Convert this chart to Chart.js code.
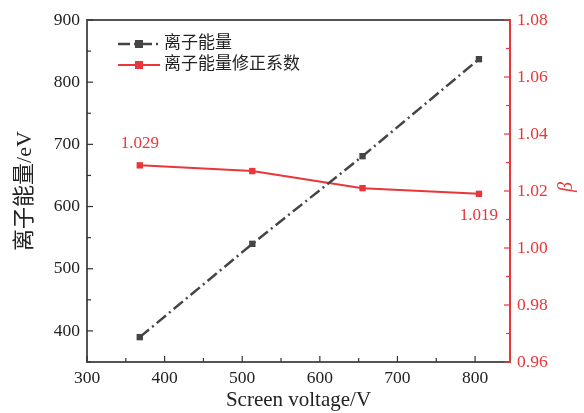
<!DOCTYPE html>
<html>
<head>
<meta charset="utf-8">
<script src="https://cdn.jsdelivr.net/npm/chart.js@4.4.1/dist/chart.umd.min.js"></script>
<style>
  html, body { margin: 0; padding: 0; background: #fff; }
  #wrap { width: 584px; height: 413px; position: relative; }
</style>
</head>
<body>
<div id="wrap"><canvas id="c"></canvas></div>
<script>
// 数据：屏栅电压 / 离子能量 / 修正系数
const voltages      = [368, 513, 655, 805];
const ionEnergy     = [390, 540, 681, 837];
const betaFactor    = [1.029, 1.027, 1.021, 1.019];
const seriesNames   = ['离子能量', '离子能量修正系数'];
const xTicks        = [300, 400, 500, 600, 700, 800];
const yLeftTicks    = [400, 500, 600, 700, 800, 900];
const yRightTicks   = [0.96, 0.98, 1.00, 1.02, 1.04, 1.06, 1.08];
const pointLabels   = [{ idx: 0, text: '1.029', dy: -22 }, { idx: 3, text: '1.019', dy: 22 }];

const GREY = '#454545';
const RED  = '#e8363a';
const AXIS = '#555555';
const SERIF = '"Liberation Serif", "Times New Roman", serif';
const CJK   = '"Liberation Serif", "Noto Sans CJK SC", serif';

// 内向刻度 + 顶边框 + 图例 + 数值标注
const decor = {
  id: 'decor',
  afterDraw(chart) {
    const { ctx, chartArea: a, scales } = chart;
    ctx.save();
    // top frame
    ctx.strokeStyle = AXIS; ctx.lineWidth = 2;
    ctx.beginPath(); ctx.moveTo(a.left, a.top); ctx.lineTo(a.right, a.top); ctx.stroke();

    const tick = (sc, v, len, color) => {
      const p = sc.getPixelForValue(v);
      ctx.strokeStyle = color; ctx.lineWidth = 1.2;
      ctx.beginPath();
      if (sc.axis === 'x') { ctx.moveTo(p, a.bottom); ctx.lineTo(p, a.bottom - len); }
      else if (sc.position === 'left') { ctx.moveTo(a.left, p); ctx.lineTo(a.left + len, p); }
      else { ctx.moveTo(a.right, p); ctx.lineTo(a.right - len, p); }
      ctx.stroke();
    };
    for (let v = 300; v <= 845; v += 50) tick(scales.x, v, v % 100 === 0 ? 6 : 4, '#333');
    for (let v = 350; v <= 900; v += 50) tick(scales.y, v, v % 100 === 0 ? 6 : 4, '#333');
    for (let i = 0; i <= 12; i++) {
      const v = 0.96 + i * 0.01;
      tick(scales.y1, v, i % 2 === 0 ? 6 : 4, RED);
    }

    // legend
    chart.data.datasets.forEach((ds, i) => {
      const y = 44 + i * 21;
      ctx.strokeStyle = ds.borderColor; ctx.lineWidth = ds.borderWidth;
      ctx.setLineDash(ds.borderDash || []);
      ctx.beginPath(); ctx.moveTo(118, y); ctx.lineTo(160, y); ctx.stroke();
      ctx.setLineDash([]);
      ctx.fillStyle = ds.pointBackgroundColor;
      ctx.fillRect(135, y - 4, 8, 8);
      ctx.fillStyle = '#222';
      ctx.font = '17px ' + CJK;
      ctx.textAlign = 'left'; ctx.textBaseline = 'middle';
      ctx.fillText(ds.label, 164, y);
    });

    // value labels on the β series
    const meta = chart.getDatasetMeta(1);
    ctx.fillStyle = RED;
    ctx.font = '17px ' + SERIF;
    ctx.textAlign = 'center'; ctx.textBaseline = 'middle';
    pointLabels.forEach(l => {
      const pt = meta.data[l.idx];
      ctx.fillText(l.text, pt.x, pt.y + l.dy);
    });

    // right axis title β
    ctx.save();
    ctx.translate(567, scales.y1.getPixelForValue(1.02) - 4);
    ctx.rotate(-Math.PI / 2);
    ctx.font = 'italic 20px ' + SERIF;
    ctx.fillText('β', 0, 0);
    ctx.restore();
    ctx.restore();
  }
};

new Chart(document.getElementById('c'), {
  type: 'line',
  data: {
    datasets: [
      {
        label: seriesNames[0],
        data: voltages.map((x, i) => ({ x, y: ionEnergy[i] })),
        yAxisID: 'y',
        borderColor: GREY,
        borderWidth: 2.5,
        borderDash: [12, 4, 2, 4],
        pointStyle: 'rect',
        pointRadius: 4.5,
        pointBackgroundColor: GREY,
        pointBorderColor: GREY,
        pointBorderWidth: 0,
        tension: 0,
      },
      {
        label: seriesNames[1],
        data: voltages.map((x, i) => ({ x, y: betaFactor[i] })),
        yAxisID: 'y1',
        borderColor: RED,
        borderWidth: 2,
        pointStyle: 'rect',
        pointRadius: 4.5,
        pointBackgroundColor: RED,
        pointBorderColor: RED,
        pointBorderWidth: 0,
        tension: 0,
      },
    ],
  },
  options: {
    responsive: true,
    maintainAspectRatio: false,
    animation: false,
    devicePixelRatio: 1,
    layout: { autoPadding: false, padding: { top: 20, left: 0, right: 0, bottom: 0 } },
    plugins: { legend: { display: false }, tooltip: { enabled: false } },
    scales: {
      x: {
        type: 'linear', min: 300, max: 845,
        afterBuildTicks: s => { s.ticks = xTicks.map(v => ({ value: v })); },
        afterFit: s => { s.height = 51; },
        grid: { display: false, drawTicks: false },
        border: { display: true, color: AXIS, width: 2 },
        ticks: { color: '#222', padding: 6, font: { family: SERIF, size: 17.5 } },
        title: { display: true, text: 'Screen voltage/V', color: '#222', padding: { top: 3, bottom: 0 },
                 font: { family: SERIF, size: 21 } },
      },
      y: {
        type: 'linear', position: 'left', min: 350, max: 900,
        afterBuildTicks: s => { s.ticks = yLeftTicks.map(v => ({ value: v })); },
        afterFit: s => { s.width = 87; },
        grid: { display: false, drawTicks: false },
        border: { display: true, color: AXIS, width: 2 },
        ticks: { color: '#222', padding: 7, font: { family: SERIF, size: 17.5 } },
        title: { display: true, text: '离子能量/eV', color: '#222', padding: { top: 12, bottom: 0 },
                 font: { family: CJK, size: 22 } },
      },
      y1: {
        type: 'linear', position: 'right', min: 0.96, max: 1.08,
        afterBuildTicks: s => { s.ticks = yRightTicks.map(v => ({ value: v })); },
        afterFit: s => { s.width = 74; },
        grid: { display: false, drawTicks: false },
        border: { display: true, color: RED, width: 2 },
        ticks: { color: RED, padding: 7, font: { family: SERIF, size: 17.5 },
                 callback: v => v.toFixed(2) },
        title: { display: false },
      },
    },
  },
  plugins: [decor],
});
</script>
</body>
</html>
